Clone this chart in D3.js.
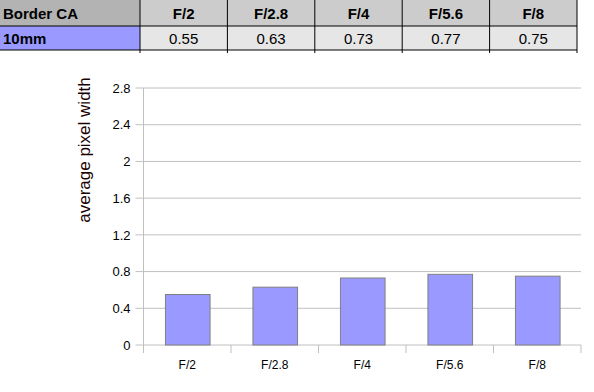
<!DOCTYPE html>
<html>
<head>
<meta charset="utf-8">
<script src="https://cdn.jsdelivr.net/npm/d3@7"></script>
<style>
  body { margin: 0; background: #fff; }
  svg text { font-family: "Liberation Sans", Arial, sans-serif; }
</style>
</head>
<body>
<div id="chart"></div>
<script>
// data
let apertures = ["F/2", "F/2.8", "F/4", "F/5.6", "F/8"]
let pixelWidth = [0.55, 0.63, 0.73, 0.77, 0.75]
let yTicks = [0, 0.4, 0.8, 1.2, 1.6, 2, 2.4, 2.8]
let tableTitle = "Border CA"
let rowLabel = "10mm"

let svgWidth = 594
let svgHeight = 392

let svg = d3.select("#chart")
    .append("svg")
    .attr("width", svgWidth)
    .attr("height", svgHeight)

// table on top
let colX = d3.scaleBand()
    .domain(apertures)
    .range([140, 577])
let tbl = svg.append("g")

tbl.append("rect").attr("x", 0).attr("y", 0).attr("width", 140).attr("height", 26).attr("fill", "#b3b3b3")
tbl.append("rect").attr("x", 0).attr("y", 26).attr("width", 140).attr("height", 24).attr("fill", "#9999ff")
tbl.selectAll(".hcell").data(apertures).enter().append("rect")
    .attr("x", d => colX(d)).attr("y", 0)
    .attr("width", colX.bandwidth()).attr("height", 26)
    .attr("fill", "#cccccc")
tbl.selectAll(".vcell").data(apertures).enter().append("rect")
    .attr("x", d => colX(d)).attr("y", 26)
    .attr("width", colX.bandwidth()).attr("height", 24)
    .attr("fill", "#e6e6e6")

// grid lines of the table
let edges = [0, 140].concat(apertures.map(d => colX(d) + colX.bandwidth()))
tbl.selectAll(".vl").data(edges.slice(1)).enter().append("line")
    .attr("x1", d => d).attr("x2", d => d)
    .attr("y1", 0).attr("y2", 53)
    .attr("stroke", "#000").attr("stroke-width", 1)
tbl.append("line").attr("x1", 0).attr("x2", 577).attr("y1", 26).attr("y2", 26).attr("stroke", "#000")
tbl.append("line").attr("x1", 0).attr("x2", 577).attr("y1", 50).attr("y2", 50).attr("stroke", "#000")

tbl.append("text").attr("x", 3).attr("y", 19).text(tableTitle)
    .style("font-size", "15px").style("font-weight", "bold")
tbl.append("text").attr("x", 3).attr("y", 44).text(rowLabel)
    .style("font-size", "15px").style("font-weight", "bold")
tbl.selectAll(".ht").data(apertures).enter().append("text")
    .attr("x", d => colX(d) + colX.bandwidth() / 2).attr("y", 19)
    .attr("text-anchor", "middle")
    .style("font-size", "15px").style("font-weight", "bold")
    .text(d => d)
tbl.selectAll(".vt").data(pixelWidth).enter().append("text")
    .attr("x", (d, i) => colX(apertures[i]) + colX.bandwidth() / 2).attr("y", 44)
    .attr("text-anchor", "middle")
    .style("font-size", "15px")
    .text(d => d.toFixed(2))

// bar chart
let margin = { top: 88, left: 143.5, right: 13, bottom: 47 }
let width = svgWidth - margin.left - margin.right
let height = svgHeight - margin.top - margin.bottom

let chartGroup = svg.append("g")
    .attr("transform", `translate(${margin.left}, ${margin.top})`)

let xScale = d3.scaleBand()
    .domain(apertures)
    .range([0, width])
    .paddingInner(0.49)
    .paddingOuter(0.245)
let xBand = d3.scaleBand().domain(apertures).range([0, width])

let yScale = d3.scaleLinear()
    .domain([0, 2.8])
    .range([height, 0])

// horizontal grid
chartGroup.selectAll(".grid").data(yTicks).enter().append("line")
    .attr("x1", -8).attr("x2", width)
    .attr("y1", d => yScale(d)).attr("y2", d => yScale(d))
    .attr("stroke", "#c0c0c0").attr("stroke-width", 1)

// left axis line
chartGroup.append("line")
    .attr("x1", 0).attr("x2", 0)
    .attr("y1", 0).attr("y2", height + 8)
    .attr("stroke", "#c0c0c0")

// x ticks between categories
chartGroup.selectAll(".xt").data(apertures).enter().append("line")
    .attr("x1", d => xBand(d) + xBand.bandwidth()).attr("x2", d => xBand(d) + xBand.bandwidth())
    .attr("y1", height).attr("y2", height + 8)
    .attr("stroke", "#c0c0c0")

let leftAxis = d3.axisLeft(yScale).tickValues(yTicks).tickSize(0).tickPadding(13)
    .tickFormat(d => String(d))
chartGroup.append("g")
    .call(leftAxis)
    .call(g => g.select(".domain").remove())
    .selectAll("text")
    .style("font-size", "13px")
    .style("font-family", "Liberation Sans, Arial, sans-serif")
    .attr("fill", "#000")

chartGroup.selectAll(".bar").data(pixelWidth).enter().append("rect")
    .attr("x", (d, i) => xScale(apertures[i]) + 0.5)
    .attr("y", d => yScale(d))
    .attr("width", xScale.bandwidth())
    .attr("height", d => height - yScale(d))
    .attr("fill", "#9999ff")
    .attr("stroke", "#808080")
    .attr("stroke-width", 1)

let bottomAxis = d3.axisBottom(xBand).tickSize(0).tickPadding(15)
chartGroup.append("g")
    .attr("transform", `translate(0, ${height})`)
    .call(bottomAxis)
    .call(g => g.select(".domain").remove())
    .selectAll("text")
    .style("font-size", "12px")
    .style("font-family", "Liberation Sans, Arial, sans-serif")
    .attr("fill", "#000")

svg.append("text")
    .attr("transform", "rotate(-90)")
    .attr("x", -150)
    .attr("y", 90)
    .attr("text-anchor", "middle")
    .style("font-size", "17px")
    .attr("fill", "#1a0000")
    .text("average pixel width")
</script>
</body>
</html>
